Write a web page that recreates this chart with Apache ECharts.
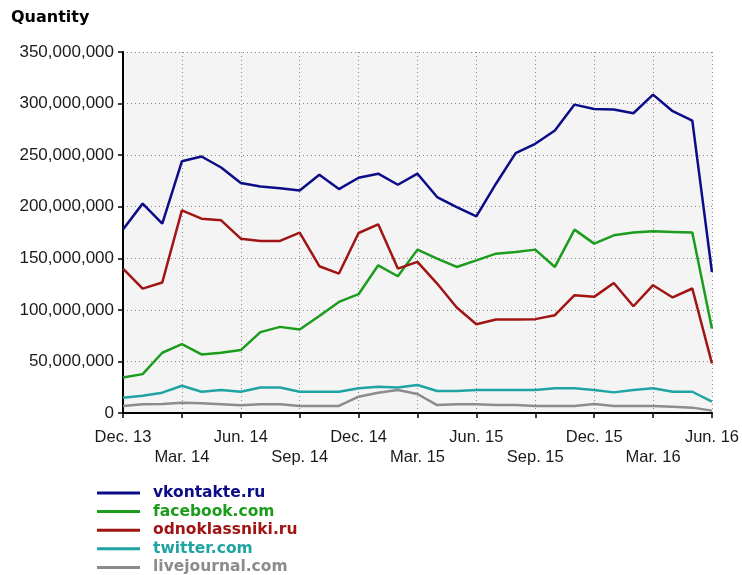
<!DOCTYPE html>
<html><head><meta charset="utf-8">
<script src="https://cdn.jsdelivr.net/npm/echarts@6/dist/echarts.min.js"></script>
<style>html,body{margin:0;padding:0;background:#fff}#c{width:742px;height:575px}</style>
</head><body><div id="c"></div>
<script>
// Values in millions
const months = ["Dec. 13","Jan. 14","Feb. 14","Mar. 14","Apr. 14","May. 14","Jun. 14","Jul. 14","Aug. 14","Sep. 14","Oct. 14","Nov. 14",
  "Dec. 14","Jan. 15","Feb. 15","Mar. 15","Apr. 15","May. 15","Jun. 15","Jul. 15","Aug. 15","Sep. 15","Oct. 15","Nov. 15",
  "Dec. 15","Jan. 16","Feb. 16","Mar. 16","Apr. 16","May. 16","Jun. 16"];
const vkontakte = [178,203,183.5,244,248.7,238,223,219.7,218,215.8,231,217.1,228.1,232,221.3,232,209.4,199.7,190.6,222.3,252,261,273.9,299,294.8,294.2,290.6,308.7,292.6,283.5,136.7];
const facebook = [34.5,37.7,58.4,66.8,56.8,58.4,61,78.4,83.5,81,94,107.7,115.2,143.2,132.6,158.4,149.7,141.6,148,154.5,156.1,158.4,141.6,177.8,164.2,172.3,174.9,176.1,175.5,174.9,82];
const odnoklassniki = [140,120.6,126.5,196.5,188.4,186.8,169,166.8,166.8,174.9,142.3,135.2,174.5,182.9,140,146.5,125.5,102.3,86.1,90.6,90.6,91,94.8,114.2,112.6,126.1,103.5,123.9,112,120.7,48.1];
const twitter = [14.8,16.8,19.7,26.4,20.6,22.3,20.6,24.8,24.8,20.6,20.6,20.6,23.9,25.5,24.8,27.1,21.3,21.3,22.3,22.3,22.3,22.3,23.9,23.9,22.3,20,22.3,23.9,20.6,20.6,11];
const livejournal = [6.8,8.4,8.7,10,9.4,8.4,7.4,8.4,8.4,6.8,6.8,6.8,15.8,19.7,22.3,18.4,7.7,8.4,8.4,7.7,7.7,6.8,6.8,6.8,8.7,6.8,6.8,6.8,6.1,5.2,2.3];
const seriesNames = ["vkontakte.ru","facebook.com","odnoklassniki.ru","twitter.com","livejournal.com"];
const seriesColors = ["#0c0c88","#1c9c1c","#a01414","#1fa3a3","#8c8c8c"];
const seriesData = [vkontakte, facebook, odnoklassniki, twitter, livejournal];

const chart = echarts.init(document.getElementById('c'));
const every3 = (i) => i % 3 === 0;
chart.setOption({
  animation: false,
  title: {text: 'Quantity', left: 11, top: 10, padding: 0, textStyle: {fontFamily: 'DejaVu Sans', fontWeight: 'bold', fontSize: 16, color: '#000'}},
  grid: {left: 123, right: 28, top: 52, bottom: 162, show: true, backgroundColor: '#f4f4f4', borderWidth: 0},
  xAxis: {
    type: 'category', data: months, boundaryGap: false,
    axisLine: {lineStyle: {color: '#000', width: 2}},
    axisTick: {interval: (i) => every3(i), length: 5, lineStyle: {color: '#000', width: 1.5}},
    splitLine: {show: true, interval: (i) => every3(i), lineStyle: {color: '#8a8a8a', type: [1, 3], width: 1}},
    axisLabel: {interval: (i) => every3(i), margin: 14, fontFamily: 'Liberation Sans', fontSize: 16.5, color: '#1a1a1a', lineHeight: 20,
      formatter: (v, i) => (i % 6 === 3 ? '\n' + v : v)}
  },
  yAxis: {
    type: 'value', min: 0, max: 350, interval: 50,
    axisLine: {show: true, lineStyle: {color: '#000', width: 2}},
    axisTick: {show: true, length: 5, lineStyle: {color: '#000', width: 1.5}},
    splitLine: {show: true, lineStyle: {color: '#8a8a8a', type: [1, 3], width: 1}},
    axisLabel: {margin: 9, fontFamily: 'Liberation Sans', fontSize: 17, color: '#1a1a1a',
      formatter: (v) => (v * 1000000).toLocaleString('en-US')}
  },
  legend: {
    orient: 'vertical', left: 97, top: 485, padding: 0, height: 95, itemWidth: 43, itemHeight: 3, itemGap: 2.6,
    icon: 'rect',
    data: seriesNames.map((n, k) => ({name: n, textStyle: {color: seriesColors[k]}})),
    textStyle: {fontFamily: 'DejaVu Sans', fontWeight: 'bold', fontSize: 15.5, padding: [0, 0, 0, 8]}
  },
  series: seriesNames.map((n, k) => ({
    name: n, type: 'line', data: seriesData[k], symbol: 'none', showSymbol: false,
    lineStyle: {color: seriesColors[k], width: 2.5}, itemStyle: {color: seriesColors[k]}
  }))
});
</script></body></html>
